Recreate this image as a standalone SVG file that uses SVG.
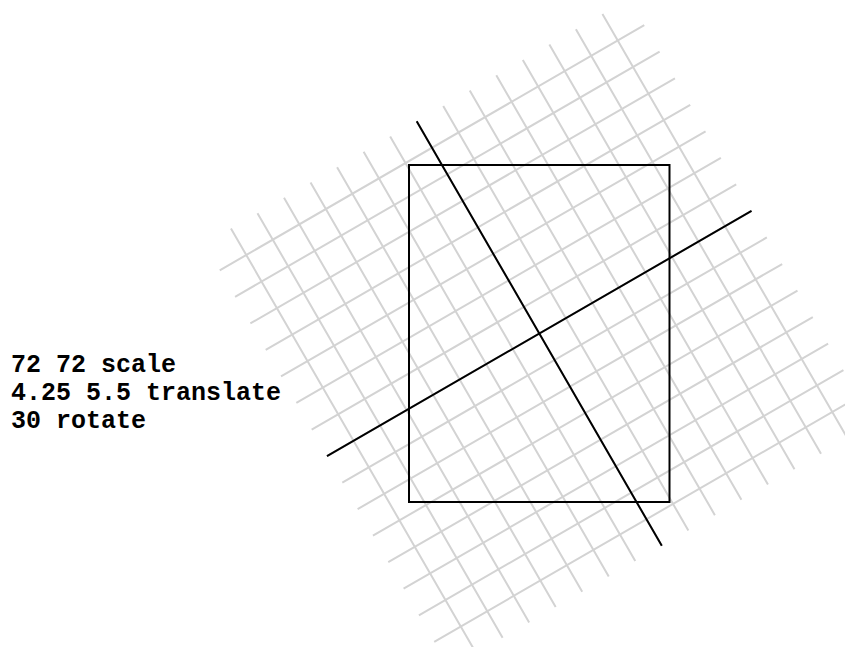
<svg xmlns="http://www.w3.org/2000/svg" width="845" height="647" viewBox="0 0 845 647">
<style>
.grid{fill:none;stroke:#d3d3d3;stroke-width:2}
.ink{fill:none;stroke:#000;stroke-width:2}
.code{font-family:"Liberation Mono","Courier New",monospace;font-weight:bold;font-size:25px;fill:#000}
</style>
<rect width="845" height="647" fill="#fff"/>
<g id="grid" transform="translate(539.25,333.5) rotate(-30)">
<path class="grid" d="M-245.12 -214.48H245.12M-245.12 -183.84H245.12M-245.12 -153.2H245.12M-245.12 -122.56H245.12M-245.12 -91.92H245.12M-245.12 -61.28H245.12M-245.12 -30.64H245.12M-245.12 0H245.12M-245.12 30.64H245.12M-245.12 61.28H245.12M-245.12 91.92H245.12M-245.12 122.56H245.12M-245.12 153.2H245.12M-245.12 183.84H245.12M-245.12 214.48H245.12"/>
<path class="grid" d="M-214.48 -245.12V245.12M-183.84 -245.12V245.12M-153.2 -245.12V245.12M-122.56 -245.12V245.12M-91.92 -245.12V245.12M-61.28 -245.12V245.12M-30.64 -245.12V245.12M0 -245.12V245.12M30.64 -245.12V245.12M61.28 -245.12V245.12M91.92 -245.12V245.12M122.56 -245.12V245.12M153.2 -245.12V245.12M183.84 -245.12V245.12M214.48 -245.12V245.12"/>
</g>
<g id="page">
<rect class="ink" x="409" y="165" width="260.5" height="337"/>
</g>
<g id="axes" transform="translate(539.25,333.5) rotate(-30)">
<path class="ink" d="M-245.12 0H245.12M0 -245.12V245.12"/>
</g>
<g id="label">
<text class="code" x="11" y="372">72 72 scale</text>
<text class="code" x="11" y="400">4.25 5.5 translate</text>
<text class="code" x="11" y="428">30 rotate</text>
</g>
</svg>
